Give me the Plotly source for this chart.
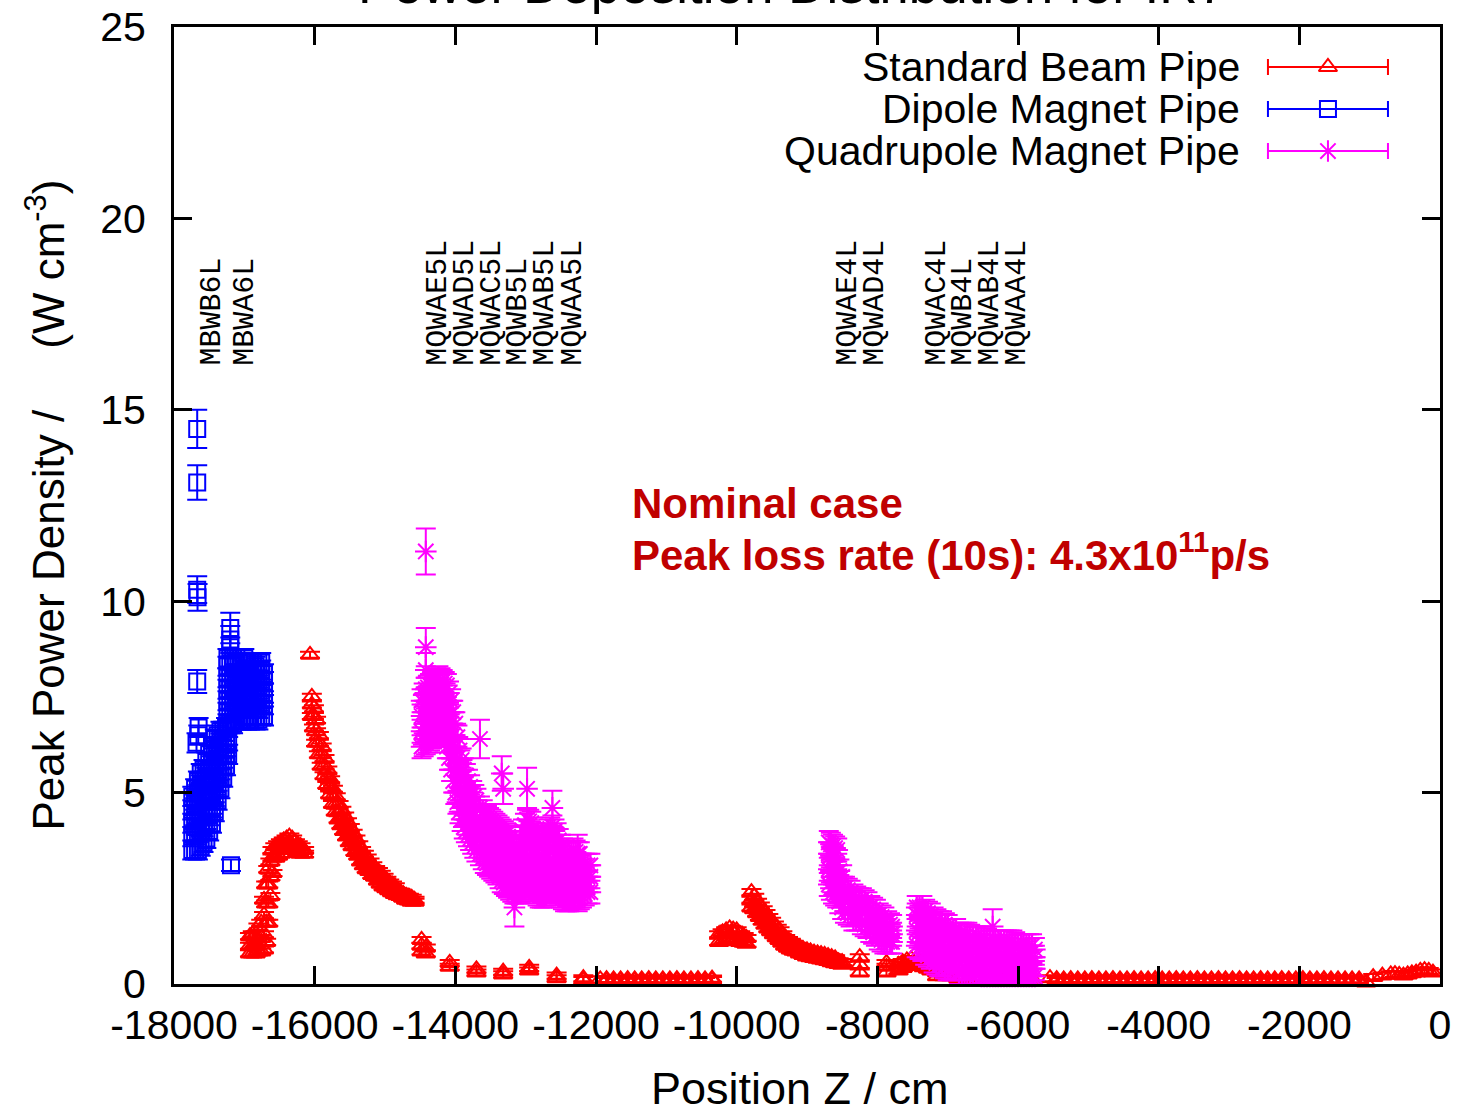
import plotly.graph_objects as go

# ---------------- data ----------------
# Standard Beam Pipe (red triangles): column positions, values per column
std_x = [-16920, -16880, -16840, -16800, -16760, -16720, -16690, -16660, -16630, -16600,
         -16560, -16520, -16480, -16440, -16400, -16360, -16320, -16280, -16240, -16200, -16150,
         -16066, -16040, -16010, -15980, -15940, -15900, -15860, -15820, -15780, -15740, -15700,
         -15660, -15620, -15580, -15540, -15500, -15460, -15420, -15380,
         -15340, -15300, -15260, -15220, -15180, -15140, -15100, -15060, -15020, -14980, -14940,
         -14900, -14860, -14820, -14780, -14740, -14700, -14660, -14620, -14580,
         -14480, -14420, -14080, -13700, -13320, -12950, -12560, -12180,
         -11940, -11850, -11750, -11650, -11550, -11450, -11350, -11250, -11150, -11050, -10950,
         -10850, -10750, -10650, -10550, -10450, -10350,
         -10250, -10200, -10150, -10100, -10050, -10000, -9950, -9900, -9860,
         -9790, -9750, -9710, -9670, -9630, -9590, -9550, -9510, -9470, -9430, -9390, -9350,
         -9310, -9270, -9230, -9190, -9150, -9100, -9050, -9000, -8950, -8900, -8850, -8800,
         -8750, -8700, -8650, -8600, -8550, -8500,
         -8250, -7870, -7700, -7640, -7580, -7520, -7460, -7400, -7340, -7280, -7230, -7150,
         -7050, -6950, -6850, -6700, -6550, -6400, -6250, -6100, -5950, -5800, -5545,
         -5450, -5350, -5250, -5150, -5050, -4950, -4850, -4750, -4650, -4550, -4450, -4350,
         -4250, -4150, -4050, -3950, -3850, -3750, -3650, -3550, -3450, -3350, -3250, -3150,
         -3050, -2950, -2850, -2750, -2650, -2550, -2450, -2350, -2250, -2150, -2050, -1950,
         -1850, -1750, -1650, -1550, -1450, -1350, -1250, -1150, -1050, -950,
         -820, -700, -640, -580, -520, -460, -400, -340, -280, -220, -160, -100, -40, 0]
std_y = [[0.8, 1.0, 1.25], [0.8, 1.0, 1.3], [0.8, 1.05, 1.3], [0.85, 1.1, 1.5], [0.85, 1.2, 1.6],
         [0.9, 1.3, 1.8, 2.2], [1.1, 1.6, 2.1, 2.6], [1.6, 2.1, 2.6, 3.0], [2.3, 2.8, 3.2], [2.9, 3.3, 3.5],
         [3.3, 3.6], [3.35, 3.65], [3.4, 3.7], [3.5, 3.75], [3.55, 3.8], [3.6, 3.85], [3.55, 3.8],
         [3.5, 3.7], [3.45, 3.65], [3.4, 3.6], [3.4, 3.5],
         [8.6], [7.0, 7.3, 7.5], [6.7, 7.0, 7.2], [6.3, 6.6, 6.9], [6.0, 6.3, 6.5], [5.7, 6.0, 6.2],
         [5.45, 5.7, 5.9], [5.2, 5.4, 5.6], [4.95, 5.15, 5.35], [4.7, 4.9, 5.1], [4.5, 4.7, 4.9],
         [4.3, 4.5, 4.7], [4.15, 4.35, 4.55], [4.0, 4.2, 4.4], [3.85, 4.05, 4.25], [3.7, 3.9, 4.1],
         [3.6, 3.75, 3.95], [3.45, 3.6, 3.8], [3.35, 3.5, 3.65],
         [3.2, 3.4, 3.5], [3.1, 3.25, 3.4], [3.0, 3.15, 3.3], [2.95, 3.05, 3.2], [2.85, 3.0, 3.1],
         [2.8, 2.9, 3.0], [2.7, 2.8, 2.95], [2.62, 2.75, 2.88], [2.55, 2.7, 2.8], [2.5, 2.6, 2.72],
         [2.45, 2.55, 2.65],
         [2.4, 2.5, 2.6], [2.35, 2.45, 2.55], [2.32, 2.42], [2.3, 2.4], [2.25, 2.35], [2.2, 2.3],
         [2.18, 2.28], [2.15, 2.25], [2.15, 2.2],
         [0.85, 1.0, 1.15], [0.8, 0.95], [0.45, 0.55], [0.3, 0.38], [0.25, 0.32], [0.35, 0.42],
         [0.15, 0.22], [0.1, 0.15],
         [0.12], [0.08, 0.13], [0.07, 0.12], [0.08, 0.12], [0.07, 0.13], [0.08, 0.12], [0.07, 0.12],
         [0.08, 0.13], [0.07, 0.12], [0.08, 0.12], [0.07, 0.12],
         [0.08, 0.13], [0.07, 0.12], [0.08, 0.12], [0.07, 0.13], [0.08, 0.12], [0.1, 0.14],
         [1.1, 1.3], [1.12, 1.35], [1.15, 1.4], [1.2, 1.45], [1.18, 1.42], [1.15, 1.4], [1.1, 1.3],
         [1.08, 1.25], [1.05, 1.2],
         [2.0, 2.2, 2.4], [1.95, 2.1, 2.28], [1.85, 2.0, 2.15], [1.75, 1.9, 2.05], [1.65, 1.8, 1.95],
         [1.55, 1.7, 1.85], [1.45, 1.6, 1.75], [1.38, 1.5, 1.65], [1.3, 1.4, 1.55], [1.22, 1.32, 1.47],
         [1.15, 1.25, 1.4], [1.08, 1.18, 1.3],
         [1.0, 1.1, 1.2], [0.95, 1.05, 1.15], [0.9, 1.0, 1.1], [0.87, 0.95, 1.05], [0.85, 0.9, 1.0],
         [0.8, 0.87, 0.95], [0.76, 0.83, 0.9], [0.72, 0.8, 0.88], [0.7, 0.77, 0.85],
         [0.68, 0.75, 0.82], [0.66, 0.72, 0.8], [0.64, 0.7, 0.78],
         [0.62, 0.68, 0.76], [0.6, 0.66, 0.73], [0.57, 0.64, 0.7], [0.54, 0.61, 0.67], [0.52, 0.59],
         [0.5, 0.57],
         [0.3, 0.5, 0.7], [0.3, 0.45, 0.55], [0.35, 0.5], [0.42, 0.57], [0.47, 0.62], [0.5, 0.65],
         [0.5, 0.63], [0.48, 0.6], [0.44, 0.56], [0.4, 0.52], [0.35, 0.45], [0.2, 0.3],
         [0.2, 0.25], [0.2], [0.15], [0.15], [0.16], [0.15], [0.14], [0.15], [0.15], [0.14], [0.15],
         [0.08, 0.13], [0.07, 0.12], [0.08, 0.13], [0.07, 0.12], [0.08, 0.12], [0.07, 0.13],
         [0.08, 0.12], [0.07, 0.12], [0.08, 0.13], [0.07, 0.12], [0.08, 0.12], [0.07, 0.13],
         [0.08, 0.12], [0.07, 0.12], [0.08, 0.13], [0.07, 0.12], [0.08, 0.12], [0.07, 0.13],
         [0.08, 0.12], [0.07, 0.12], [0.08, 0.13], [0.07, 0.12], [0.08, 0.12], [0.07, 0.13],
         [0.08, 0.12], [0.07, 0.12], [0.08, 0.13], [0.07, 0.12], [0.08, 0.12], [0.07, 0.13],
         [0.08, 0.12], [0.07, 0.12], [0.08, 0.13], [0.07, 0.12], [0.08, 0.12], [0.07, 0.13],
         [0.08, 0.12], [0.07, 0.12], [0.08, 0.13], [0.07, 0.12], [0.08, 0.12], [0.07, 0.12],
         [0.08, 0.12], [0.07, 0.12],
         [0.04], [0.18], [0.22], [0.25], [0.26], [0.24], [0.22], [0.25], [0.28], [0.3], [0.34],
         [0.36], [0.34], [0.3]]
std_e = 0.08

# Dipole Magnet Pipe (blue squares)
dip_x = [-17740, -17700, -17660, -17620, -17580, -17540, -17500, -17460, -17420, -17380,
         -17340, -17300, -17260, -17230,
         -17240, -17200, -17160, -17120, -17080, -17040, -17000, -16960, -16920, -16880,
         -16840, -16800, -16760, -16720]
dip_y = [[3.5, 3.85, 4.2, 4.55, 4.9], [3.5, 3.9, 4.3, 4.7, 5.1], [3.5, 3.95, 4.4, 4.85, 5.3],
         [3.6, 4.0, 4.4, 4.8, 5.2, 5.5], [3.7, 4.1, 4.5, 4.9, 5.3, 5.6], [3.8, 4.2, 4.6, 5.0, 5.4, 5.8],
         [4.0, 4.4, 4.8, 5.2, 5.6, 6.0], [4.2, 4.6, 5.0, 5.4, 5.8, 6.2], [4.5, 4.9, 5.3, 5.7, 6.1, 6.4],
         [4.8, 5.15, 5.5, 5.85, 6.2, 6.5], [5.1, 5.4, 5.7, 6.0, 6.3, 6.6], [5.4, 5.7, 6.0, 6.3, 6.6],
         [5.7, 6.0, 6.3, 6.7], [6.0, 6.35, 6.7],
         [6.8, 7.1, 7.4, 7.7, 8.0, 8.3, 8.5], [6.8, 7.1, 7.4, 7.7, 8.0, 8.3, 8.8],
         [6.8, 7.1, 7.4, 7.7, 8.0, 8.3, 8.5], [6.9, 7.2, 7.5, 7.8, 8.1, 8.4],
         [6.9, 7.2, 7.5, 7.8, 8.1, 8.4], [6.9, 7.2, 7.5, 7.8, 8.1, 8.4],
         [7.0, 7.3, 7.6, 7.9, 8.2, 8.5], [6.9, 7.2, 7.5, 7.8, 8.1, 8.4],
         [6.9, 7.2, 7.5, 7.8, 8.1, 8.4], [7.0, 7.3, 7.6, 7.9, 8.2, 8.4],
         [6.9, 7.2, 7.5, 7.8, 8.1, 8.3], [6.9, 7.2, 7.5, 7.8, 8.1, 8.4],
         [7.0, 7.3, 7.6, 7.9, 8.2, 8.4], [7.0, 7.3, 7.6, 7.9, 8.1]]
dip_e = 0.25
dip_out_x = [-17670, -17670, -17670, -17665, -17670, -17650, -17655, -17680, -17655, -17690,
             -17190, -17200, -17200]
dip_out_y = [14.5, 13.1, 10.3, 10.1, 7.9, 6.7, 6.5, 6.3, 5.0, 4.1, 3.1, 9.3, 9.0]
dip_out_e = [0.5, 0.45, 0.35, 0.35, 0.3, 0.25, 0.25, 0.25, 0.2, 0.2, 0.15, 0.4, 0.35]

# Quadrupole Magnet Pipe (magenta stars)
quad_x = [-14480, -14450, -14420, -14390, -14360, -14330, -14300, -14270, -14240, -14210,
          -14180, -14150, -14120, -14090, -14060, -14030, -14000, -13970, -13940, -13910,
          -13880, -13850, -13820, -13790, -13760, -13730, -13700, -13650, -13610, -13580,
          -13550, -13520, -13490, -13460, -13430, -13400, -13370, -13340, -13310,
          -13280, -13250, -13220, -13190, -13160, -13130, -13100, -13070, -13040, -13010, -12980,
          -12950, -12920, -12890, -12860, -12830, -12800, -12770, -12740,
          -12710, -12680, -12650, -12620, -12590, -12560, -12530, -12500, -12470, -12440, -12410,
          -12380, -12350, -12320, -12290, -12260, -12230, -12200, -12160, -12120, -12080,
          -8690, -8660, -8630, -8600, -8570, -8540, -8500, -8460, -8420, -8380, -8340, -8300,
          -8260, -8220, -8180, -8140, -8100, -8060, -8020, -7980, -7940, -7900, -7860, -7820, -7790,
          -7440, -7400, -7360, -7320, -7280, -7240, -7200, -7160, -7120, -7080, -7040, -7000,
          -6960, -6920, -6880, -6840, -6800, -6760, -6720, -6680, -6640, -6600, -6560, -6520,
          -6480, -6440, -6400, -6360, -6320, -6280, -6240, -6200, -6160, -6120, -6080, -6040,
          -6000, -5960, -5920, -5880, -5840, -5800, -5760]
quad_y = [[6.2, 6.6, 7.0, 7.4], [6.25, 6.7, 7.1, 7.55], [6.3, 6.8, 7.3, 7.7], [6.35, 6.85, 7.35, 7.75],
          [6.4, 6.9, 7.4, 7.8], [6.45, 6.95, 7.45, 7.85], [6.5, 7.0, 7.5, 7.9], [6.55, 7.05, 7.55, 7.95],
          [6.6, 7.1, 7.6, 8.0], [6.55, 7.05, 7.55, 7.95],
          [6.5, 7.0, 7.5, 7.9], [6.35, 6.9, 7.4, 7.85], [6.2, 6.8, 7.3, 7.8], [5.9, 6.5, 7.05, 7.6],
          [5.6, 6.2, 6.8, 7.4], [5.3, 5.9, 6.5, 7.1], [5.0, 5.6, 6.2, 6.8], [4.75, 5.3, 5.9, 6.45],
          [4.5, 5.0, 5.6, 6.1], [4.3, 4.8, 5.35, 5.85],
          [4.1, 4.6, 5.1, 5.6], [4.0, 4.45, 4.95, 5.45], [3.9, 4.3, 4.8, 5.3], [3.8, 4.2, 4.65, 5.15],
          [3.7, 4.1, 4.5, 5.0], [3.6, 4.0, 4.4, 4.9], [3.5, 3.9, 4.3, 4.8], [3.4, 3.8, 4.2, 4.6],
          [3.3, 3.7, 4.1, 4.5], [3.2, 3.6, 4.0, 4.4],
          [3.15, 3.55, 3.95, 4.35], [3.1, 3.5, 3.9, 4.3], [3.05, 3.45, 3.85, 4.25], [3.0, 3.4, 3.8, 4.2],
          [2.95, 3.35, 3.75, 4.15], [2.9, 3.3, 3.7, 4.1], [2.8, 3.2, 3.65, 4.05], [2.7, 3.1, 3.6, 4.0],
          [2.65, 3.05, 3.5, 3.95],
          [2.6, 3.0, 3.4, 3.9], [2.55, 2.95, 3.35, 3.85], [2.5, 2.9, 3.3, 3.8], [2.45, 2.85, 3.25, 3.7],
          [2.4, 2.8, 3.2, 3.6], [2.4, 2.8, 3.2, 3.6], [2.4, 2.8, 3.2, 3.6], [2.45, 2.9, 3.35, 3.8],
          [2.5, 3.0, 3.5, 4.0], [2.55, 3.05, 3.6, 4.15], [2.6, 3.1, 3.7, 4.3],
          [2.55, 3.05, 3.65, 4.25], [2.5, 3.0, 3.6, 4.2], [2.45, 2.95, 3.5, 4.05], [2.4, 2.9, 3.4, 3.9],
          [2.35, 2.85, 3.35, 3.85], [2.3, 2.8, 3.3, 3.8], [2.3, 2.8, 3.3, 3.8], [2.3, 2.8, 3.3, 3.8],
          [2.35, 2.85, 3.4, 3.9], [2.4, 2.9, 3.5, 4.0], [2.45, 2.95, 3.55, 4.05], [2.5, 3.0, 3.6, 4.1],
          [2.45, 2.95, 3.5, 4.0], [2.4, 2.9, 3.4, 3.9], [2.35, 2.8, 3.3, 3.75], [2.3, 2.7, 3.2, 3.6],
          [2.25, 2.65, 3.1, 3.5], [2.2, 2.6, 3.0, 3.4], [2.2, 2.6, 3.0, 3.4],
          [2.2, 2.6, 3.0, 3.4], [2.25, 2.65, 3.05, 3.45], [2.3, 2.7, 3.1, 3.5], [2.25, 2.65, 3.05, 3.45],
          [2.2, 2.6, 3.0, 3.4], [2.25, 2.65, 3.05, 3.4], [2.3, 2.7, 3.1], [2.35, 2.75, 3.1],
          [2.4, 2.8, 3.1], [2.4, 2.8, 3.1],
          [2.6, 3.0, 3.4, 3.7], [2.5, 2.95, 3.35, 3.65], [2.4, 2.9, 3.3, 3.6], [2.35, 2.8, 3.2, 3.55],
          [2.3, 2.7, 3.1, 3.5], [2.15, 2.55, 2.95], [2.0, 2.4, 2.8], [1.9, 2.2, 2.5],
          [1.85, 2.15, 2.45], [1.8, 2.1, 2.4], [1.7, 2.0, 2.3], [1.7, 2.0, 2.25],
          [1.7, 2.0, 2.2], [1.6, 1.9, 2.2], [1.55, 1.85, 2.15], [1.5, 1.8, 2.1], [1.4, 1.7, 2.0],
          [1.35, 1.65, 1.95], [1.3, 1.6, 1.9], [1.2, 1.5, 1.8], [1.15, 1.45, 1.75], [1.1, 1.4, 1.7],
          [1.1, 1.3, 1.6], [1.1, 1.3, 1.55], [1.1, 1.3, 1.5],
          [1.0, 1.4, 1.8, 2.0], [0.95, 1.35, 1.75, 2.0], [0.9, 1.3, 1.7, 2.0], [0.8, 1.2, 1.6, 1.9],
          [0.75, 1.15, 1.55, 1.85], [0.7, 1.1, 1.5, 1.8], [0.6, 1.0, 1.4, 1.7], [0.55, 0.95, 1.35, 1.65],
          [0.5, 0.9, 1.3, 1.6], [0.5, 0.9, 1.3, 1.6], [0.45, 0.85, 1.25, 1.55], [0.4, 0.8, 1.2, 1.5],
          [0.4, 0.8, 1.2, 1.4], [0.4, 0.8, 1.15, 1.4], [0.4, 0.8, 1.1, 1.4], [0.3, 0.7, 1.0, 1.3],
          [0.3, 0.7, 1.0, 1.3], [0.3, 0.65, 1.0, 1.3], [0.3, 0.6, 1.0, 1.3], [0.3, 0.6, 0.95, 1.25],
          [0.3, 0.6, 0.9, 1.2], [0.3, 0.6, 0.9, 1.2], [0.25, 0.55, 0.9, 1.2], [0.2, 0.5, 0.9, 1.2],
          [0.2, 0.5, 0.9, 1.2], [0.2, 0.5, 0.85, 1.15], [0.2, 0.5, 0.8, 1.1], [0.2, 0.5, 0.8, 1.1],
          [0.2, 0.5, 0.8, 1.1], [0.2, 0.5, 0.8, 1.1], [0.2, 0.5, 0.8, 1.1], [0.2, 0.5, 0.8, 1.1],
          [0.2, 0.5, 0.8, 1.1], [0.2, 0.5, 0.8, 1.1], [0.2, 0.5, 0.8, 1.1], [0.2, 0.45, 0.75, 1.05],
          [0.2, 0.4, 0.7, 1.0], [0.2, 0.4, 0.7, 1.0], [0.2, 0.4, 0.7, 1.0], [0.2, 0.4, 0.7, 1.0],
          [0.2, 0.4, 0.7, 1.0], [0.2, 0.4, 0.7, 1.0], [0.2, 0.4, 0.7, 0.9]]
quad_e = 0.3
quad_out_x = [-14420, -14420, -14420, -14420, -13650, -13340, -13320, -13160, -12980, -12620, -12260,
              -6360]
quad_out_y = [11.3, 8.8, 8.2, 7.6, 6.4, 5.5, 5.1, 2.0, 5.1, 4.6, 3.4, 1.5]
quad_out_e = [0.6, 0.5, 0.45, 0.4, 0.5, 0.45, 0.4, 0.5, 0.55, 0.45, 0.5, 0.45]

# magnet labels
magnet_names = ["MBWB6L", "MBWA6L", "MQWAE5L", "MQWAD5L", "MQWAC5L", "MQWB5L", "MQWAB5L", "MQWAA5L",
                "MQWAE4L", "MQWAD4L", "MQWAC4L", "MQWB4L", "MQWAB4L", "MQWAA4L"]
magnet_pos = [-17464, -16990, -14246, -13863, -13479, -13109, -12725, -12327,
              -8417, -8033, -7152, -6782, -6398, -6014]

x_ticks = [-18000, -16000, -14000, -12000, -10000, -8000, -6000, -4000, -2000, 0]
x_ticktext = ["-18000", "-16000", "-14000", "-12000", "-10000", "-8000", "-6000", "-4000", "-2000", "0"]
y_ticks = [0, 5, 10, 15, 20, 25]

series_names = ["Standard Beam Pipe", "Dipole Magnet Pipe", "Quadrupole Magnet Pipe"]
series_colors = ["#ff0000", "#0000ff", "#ff00ff"]
series_symbols = ["triangle-up-open", "square-open", "asterisk-open"]
series_sizes = [16, 16, 18]


def flatten(cols_x, cols_y, err, out_x=(), out_y=(), out_e=()):
    xs, ys, es = [], [], []
    for cx, cy in zip(cols_x, cols_y):
        for v in cy:
            xs.append(cx)
            ys.append(v)
            es.append(err)
    xs += list(out_x)
    ys += list(out_y)
    es += list(out_e)
    return xs, ys, es


data_sets = [
    flatten(std_x, std_y, std_e),
    flatten(dip_x, dip_y, dip_e, dip_out_x, dip_out_y, dip_out_e),
    flatten(quad_x, quad_y, quad_e, quad_out_x, quad_out_y, quad_out_e),
]

FONT = "Liberation Sans, Arial, Helvetica, sans-serif"
fig = go.Figure()

for (xs, ys, es), name, col, sym, sz in zip(data_sets, series_names, series_colors, series_symbols, series_sizes):
    fig.add_trace(go.Scatter(
        x=xs, y=ys, mode="markers", name=name, showlegend=False, cliponaxis=False,
        marker=dict(symbol=sym, size=sz, color=col, line=dict(color=col, width=2)),
        error_y=dict(type="data", array=es, visible=True, color=col, thickness=2, width=10),
    ))

# legend samples (gnuplot style: text on left, sample line with errorbar on right)
leg_y = [0.9582, 0.9143, 0.8704]
leg_cx = 0.9115
leg_half = 0.0474
for name, col, sym, sz, ly in zip(series_names, series_colors, series_symbols, series_sizes, leg_y):
    fig.add_trace(go.Scatter(
        x=[leg_cx], y=[ly], xaxis="x2", yaxis="y2", mode="markers", showlegend=False,
        cliponaxis=False,
        marker=dict(symbol=sym, size=sz, color=col, line=dict(color=col, width=2)),
        error_x=dict(type="constant", value=leg_half, visible=True, color=col, thickness=2, width=8),
    ))
    fig.add_annotation(x=0.8436, y=ly, xref="paper", yref="paper", xanchor="right", yanchor="middle",
                       text=name, showarrow=False, font=dict(family=FONT, size=41, color="black"))

# magnet labels
for nm, xp in zip(magnet_names, magnet_pos):
    fig.add_annotation(x=xp, y=16.1, xref="x", yref="y", text=nm, textangle=-90, showarrow=False,
                       xanchor="center", yanchor="bottom",
                       font=dict(family="Courier New, Liberation Mono, monospace", size=30, color="black"))

# text annotations
fig.add_annotation(x=0.3602, y=0.5026, xref="paper", yref="paper", xanchor="left", yanchor="middle",
                   text="<b>Nominal case</b>", showarrow=False,
                   font=dict(family=FONT, size=42, color="#c00000"))
fig.add_annotation(x=0.3602, y=0.451, xref="paper", yref="paper", xanchor="left", yanchor="middle",
                   text="<b>Peak loss rate (10s): 4.3x10<sup>11</sup>p/s</b>", showarrow=False,
                   font=dict(family=FONT, size=42, color="#c00000"))

# title (cut at the top, as in the reference)
fig.add_annotation(x=0.5, y=1, xref="paper", yref="paper", xshift=-15, yshift=11,
                   xanchor="center", yanchor="bottom", showarrow=False,
                   text="Power Deposition Distribution for IR7",
                   font=dict(family=FONT, size=53, color="black"))

# axis titles
fig.add_annotation(x=0, y=0.5, xref="paper", yref="paper", xshift=-129, textangle=-90,
                   xanchor="center", yanchor="middle", showarrow=False,
                   text="Peak Power Density /\u00a0\u00a0\u00a0\u00a0\u00a0(W cm<sup>-3</sup>)",
                   font=dict(family=FONT, size=44, color="black"))
fig.add_annotation(x=0.5, y=0, xref="paper", yref="paper", xshift=-7, yshift=-104,
                   xanchor="center", yanchor="middle", showarrow=False,
                   text="Position Z / cm", font=dict(family=FONT, size=45, color="black"))

axis_common = dict(showgrid=False, zeroline=False, showline=True, linecolor="black", linewidth=3,
                   mirror="allticks", ticks="inside", ticklen=18, tickwidth=3, tickcolor="black",
                   automargin=False, tickfont=dict(family=FONT, size=41, color="black"))

fig.update_layout(
    width=1457, height=1108,
    margin=dict(l=174, r=17, t=27, b=124, autoexpand=False),
    paper_bgcolor="white", plot_bgcolor="white",
    showlegend=False,
    xaxis=dict(range=[-18000, 0], tickvals=x_ticks, ticktext=x_ticktext, ticklabelstandoff=3,
               **axis_common),
    yaxis=dict(range=[0, 25], tickvals=y_ticks, ticklabelstandoff=17, **axis_common),
    xaxis2=dict(range=[0, 1], overlaying="x", anchor="y2", visible=False),
    yaxis2=dict(range=[0, 1], overlaying="y", anchor="x2", visible=False),
)

fig.write_html("out.html")
